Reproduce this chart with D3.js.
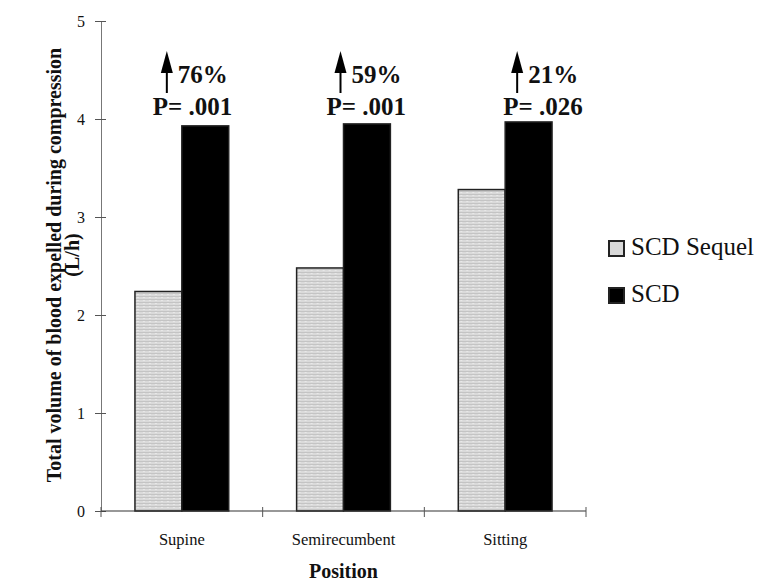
<!DOCTYPE html>
<html>
<head>
<meta charset="utf-8">
<script src="https://cdn.jsdelivr.net/npm/d3@7"></script>
<style>
  body { margin: 0; background: #fff; }
  svg { display: block; }
  text { font-family: "Liberation Serif", "Times New Roman", serif; fill: #111; }
</style>
</head>
<body>
<script>
// data
var positions = ["Supine", "Semirecumbent", "Sitting"];
var series = ["SCD Sequel", "SCD"];
var sequelValues = [2.24, 2.48, 3.28];
var scdValues = [3.93, 3.95, 3.97];
var increaseLabels = ["76%", "59%", "21%"];
var pLabels = ["P= .001", "P= .001", "P= .026"];
var yTicks = [0, 1, 2, 3, 4, 5];

(function() {
var w = 758, h = 583;
var mLeft = 101, mRight = 586, mTop = 21, mBottom = 511;
// hand placed annotation shifts, relative to each group's centre
var annoShift = [-15, -3, 12];

var svg = d3.select("body").append("svg")
    .attr("width", w)
    .attr("height", h);

// light grey texture for the sequel bars
var pat = svg.append("defs").append("pattern")
    .attr("id", "grain")
    .attr("patternUnits", "userSpaceOnUse")
    .attr("width", 6)
    .attr("height", 3);
pat.append("rect").attr("width", 6).attr("height", 3).attr("fill", "#dadada");
pat.append("rect").attr("y", 2).attr("width", 6).attr("height", 1).attr("fill", "#c4c4c4");
pat.append("rect").attr("x", 2).attr("width", 2).attr("height", 1).attr("fill", "#e8e8e8");

var x = d3.scaleBand()
    .domain(positions)
    .range([mLeft, mRight])
    .paddingInner(0.42)
    .paddingOuter(0.21);

var x1 = d3.scaleBand()
    .domain(series)
    .range([0, x.bandwidth()]);

var y = d3.scaleLinear()
    .domain([0, 5])
    .range([mBottom, mTop]);

var color = d3.scaleOrdinal()
    .domain(series)
    .range(["url(#grain)", "#000"]);

var rows = positions.map(function(p, i) {
  return {pos: p, i: i, vals: [
    {key: series[0], value: sequelValues[i]},
    {key: series[1], value: scdValues[i]}
  ]};
});

// bars
var groups = svg.selectAll("g.group")
    .data(rows)
  .enter().append("g")
    .attr("class", "group")
    .attr("transform", function(d) { return "translate(" + x(d.pos) + ",0)"; });

groups.selectAll("rect")
    .data(function(d) { return d.vals; })
  .enter().append("rect")
    .attr("x", function(d) { return x1(d.key); })
    .attr("y", function(d) { return y(d.value); })
    .attr("width", x1.bandwidth())
    .attr("height", function(d) { return y(0) - y(d.value); })
    .attr("fill", function(d) { return color(d.key); })
    .attr("stroke", "#222")
    .attr("stroke-width", 1.5);

// y axis
var yAxis = svg.append("g")
    .attr("transform", "translate(" + mLeft + ",0)")
    .call(d3.axisLeft(y).tickValues(yTicks).tickFormat(d3.format("d")).tickSize(6).tickPadding(10));
yAxis.select(".domain").attr("stroke", "#777").attr("stroke-width", 1);
yAxis.selectAll(".tick line").attr("stroke", "#555").attr("x2", 5).attr("x1", -6);
yAxis.selectAll(".tick text")
    .attr("font-size", 16)
    .attr("font-family", "Liberation Serif, serif")
    .attr("fill", "#222");

// x axis with ticks at group boundaries
var xAxisG = svg.append("g").attr("transform", "translate(0," + mBottom + ")");
xAxisG.append("line")
    .attr("x1", mLeft).attr("x2", mRight)
    .attr("stroke", "#333").attr("stroke-width", 1.2);
var step = x.step();
var bounds = d3.range(positions.length + 1).map(function(k) { return mLeft + k * step; });
xAxisG.selectAll("line.tk")
    .data(bounds)
  .enter().append("line")
    .attr("class", "tk")
    .attr("x1", function(d) { return d; })
    .attr("x2", function(d) { return d; })
    .attr("y1", -4).attr("y2", 6)
    .attr("stroke", "#555");
xAxisG.selectAll("text")
    .data(positions)
  .enter().append("text")
    .attr("x", function(d) { return x(d) + x.bandwidth() / 2; })
    .attr("y", 34)
    .attr("text-anchor", "middle")
    .attr("font-size", 16.5)
    .text(function(d) { return d; });

// axis titles
svg.append("text")
    .attr("x", (mLeft + mRight) / 2)
    .attr("y", 578)
    .attr("text-anchor", "middle")
    .attr("font-size", 20)
    .attr("font-weight", "bold")
    .text("Position");

var yt = svg.append("text")
    .attr("transform", "translate(61,265)rotate(-90)")
    .attr("text-anchor", "middle")
    .attr("font-size", 20)
    .attr("font-weight", "bold");
yt.append("tspan").attr("x", 0).attr("dy", 0).text("Total volume of blood expelled during compression");
yt.append("tspan").attr("x", 10).attr("dy", 18).text("(L/h)");

// annotations: arrow + percent increase + p value
var anno = svg.selectAll("g.anno")
    .data(rows)
  .enter().append("g")
    .attr("class", "anno")
    .attr("transform", function(d) {
      return "translate(" + (x(d.pos) + x.bandwidth() / 2 + annoShift[d.i]) + ",0)";
    });

anno.append("line")
    .attr("x1", 0).attr("x2", 0)
    .attr("y1", 70).attr("y2", 93)
    .attr("stroke", "#000").attr("stroke-width", 2);
anno.append("path")
    .attr("d", "M0,51L6,73L-6,73Z")
    .attr("fill", "#000");
anno.append("text")
    .attr("x", 11).attr("y", 83)
    .attr("font-size", 25)
    .attr("font-weight", "bold")
    .text(function(d) { return increaseLabels[d.i]; });
anno.append("text")
    .attr("x", -14).attr("y", 115)
    .attr("font-size", 25)
    .attr("font-weight", "bold")
    .text(function(d) { return pLabels[d.i]; });

// legend
var legend = svg.selectAll("g.legend")
    .data(series)
  .enter().append("g")
    .attr("class", "legend")
    .attr("transform", function(d, i) { return "translate(609," + (241 + i * 47) + ")"; });
legend.append("rect")
    .attr("width", 15).attr("height", 15)
    .attr("fill", function(d) { return d === "SCD" ? "#000" : "#d8d8d8"; })
    .attr("stroke", "#222").attr("stroke-width", 2);
legend.append("text")
    .attr("x", 22).attr("y", 14)
    .attr("font-size", 25)
    .text(function(d) { return d; });
})();
</script>
</body>
</html>
